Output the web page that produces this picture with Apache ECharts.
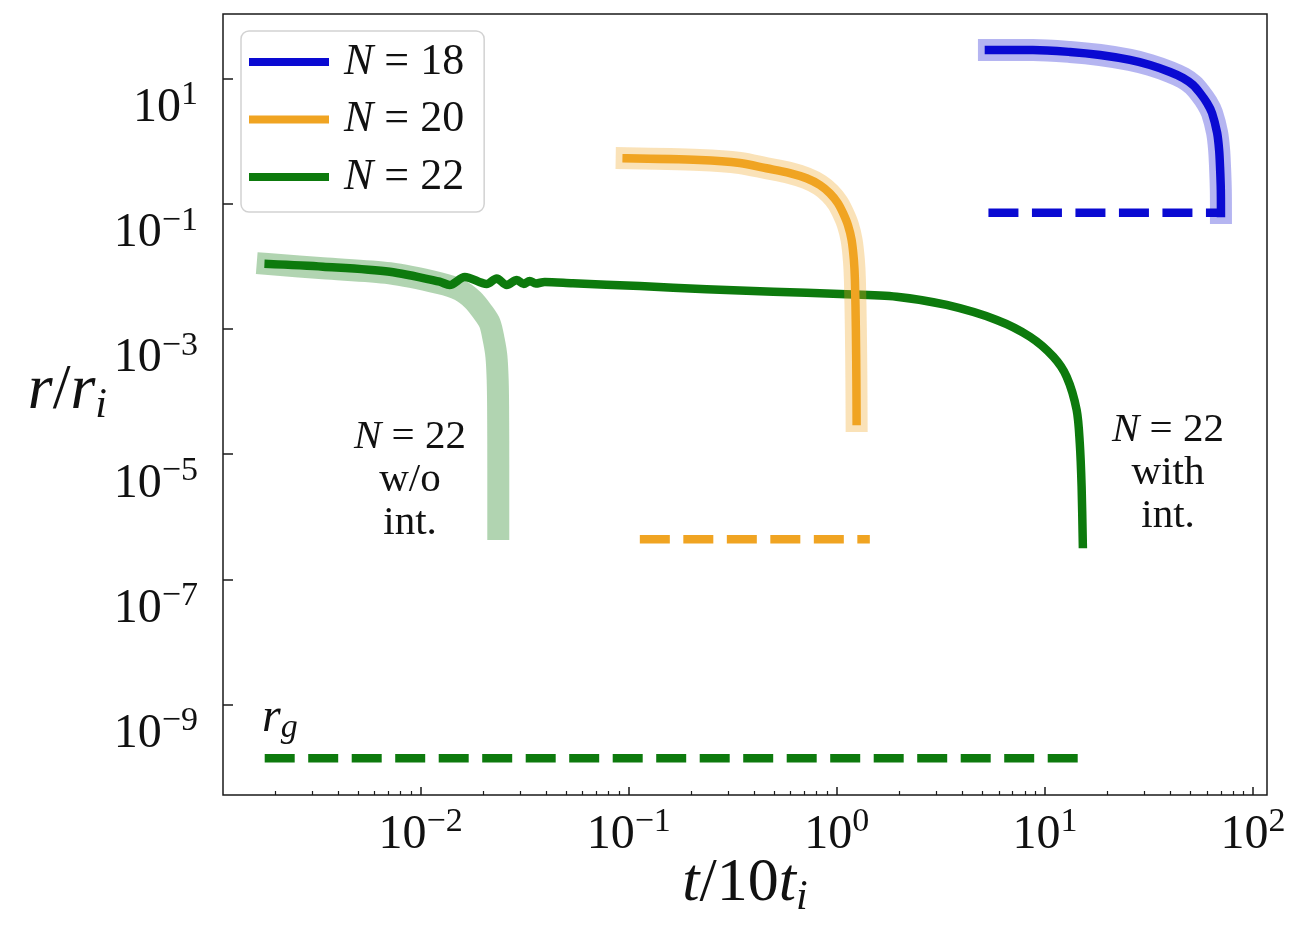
<!DOCTYPE html>
<html>
<head>
<meta charset="utf-8">
<title>r/r_i against t/10t_i</title>
<script src="https://cdn.jsdelivr.net/npm/echarts@6/dist/echarts.min.js"></script>
<style>
  html, body { margin: 0; padding: 0; background: #fff; overflow: hidden; }
  #chart { width: 1306px; height: 933px; }
</style>
</head>
<body>
<div id="chart"></div>
<script>
const SERIF = '"Liberation Serif", "Times New Roman", serif';

// N = 18
const t18 = [5.38, 8.75, 13.2, 18.4, 25.6, 32.0, 39.9, 46.1, 51.5, 55.6, 60.1, 63.5, 67.2, 68.7, 69.4, 70.0, 70.1];
const r18 = [28.5, 28.5, 26.5, 23.7, 19.8, 16.4, 12.7, 10.2, 7.87, 5.86, 4.06, 2.81, 1.35, 0.72, 0.385, 0.166, 0.071];
const t18Final = [5.35, 70.5];
const r18Final = [0.0714, 0.0714];

// N = 20
const t20 = [0.0977, 0.219, 0.342, 0.459, 0.594, 0.715, 0.828, 0.925, 1.01, 1.072, 1.13, 1.177, 1.207, 1.221, 1.234, 1.241, 1.244];
const r20 = [0.531, 0.499, 0.447, 0.368, 0.309, 0.255, 0.199, 0.147, 0.1026, 0.0703, 0.0457, 0.0263, 0.0126, 0.00604, 9.6e-4, 1.53e-4, 3.38e-5];
const t20Final = [0.113, 1.44];
const r20Final = [4.36e-7, 4.36e-7];

// N = 22 without interaction (light band)
const t22Free = [1.84e-3, 3.39e-3, 7.10e-3, 0.01234, 0.01538, 0.01783, 0.01986, 0.02148, 0.02245, 0.02312, 0.02344, 0.02355, 0.0236, 0.0236];
const r22Free = [0.01089, 9.29e-3, 7.73e-3, 5.35e-3, 4.18e-3, 2.90e-3, 1.86e-3, 1.23e-3, 6.65e-4, 3.6e-4, 1.53e-4, 5.72e-5, 5.57e-6, 6.35e-7];

// N = 22 with interaction
const t22Int = [1.86e-3, 3.39e-3, 7.10e-3, 0.01234, 0.01377, 0.01629, 0.02076, 0.02318, 0.0259, 0.02897, 0.03128, 0.03342, 0.03572, 0.03945, 0.05383, 0.113, 0.2364, 0.494, 1.034, 1.936, 3.37, 5.86, 8.47, 10.96, 12.71, 14.2, 14.7, 15.0, 15.2];
const r22Int = [0.01089, 9.87e-3, 8.20e-3, 5.67e-3, 5.02e-3, 6.75e-3, 5.21e-3, 6.38e-3, 5.02e-3, 6.04e-3, 5.21e-3, 5.82e-3, 5.31e-3, 5.61e-3, 5.35e-3, 4.84e-3, 4.30e-3, 3.93e-3, 3.61e-3, 3.27e-3, 2.41e-3, 1.39e-3, 7.50e-4, 3.60e-4, 1.72e-4, 5.06e-5, 1.49e-5, 3.01e-6, 3.66e-7];

// r_g level
const tGround = [1.78e-3, 14.6];
const rGround = [1.38e-10, 1.38e-10];

const xTickExps = [-2, -1, 0, 1, 2];
const yTickExps = [1, -1, -3, -5, -7, -9];
const legendNames = ['N = 18', 'N = 20', 'N = 22'];

const X_MIN = -2.95, X_MAX = 2.067;
const Y_MIN = -10.446, Y_MAX = 2.03;

const BLUE = '#0a0ad2';
const ORANGE = '#f0a422';
const GREEN = '#0d7a0d';

const toLog = (ts, rs) => ts.map((t, i) => [Math.log10(t), Math.log10(rs[i])]);

// minor ticks at 2..9 x 10^n
const xMinorTicks = [];
for (let n = -3; n <= 1; n++) {
    for (let k = 2; k <= 9; k++) {
        const v = n + Math.log10(k);
        if (v > X_MIN && v < X_MAX) xMinorTicks.push(v);
    }
}

function powLabel(v) {
    const e = Math.round(v);
    return '{b|10}{e|' + (e < 0 ? '\u2212' + (-e) : e) + '}';
}

const tickRich = {
    b: { fontFamily: SERIF, fontSize: 48, lineHeight: 54, verticalAlign: 'bottom', color: '#111' },
    e: { fontFamily: SERIF, fontSize: 34, lineHeight: 38, verticalAlign: 'top', color: '#111' }
};

function band(name, data, color) {
    return {
        name, type: 'line', data, symbol: 'none', showSymbol: false, silent: true, smooth: 0.3,
        color, lineStyle: { width: 22, color, cap: 'square', join: 'round' }
    };
}
function solid(name, data, color) {
    return {
        name, type: 'line', data, symbol: 'none', showSymbol: false, silent: true, smooth: 0.3,
        color, lineStyle: { width: 8.5, color, cap: 'square', join: 'round' }
    };
}
function dashed(name, data, color) {
    return {
        name, type: 'line', data, symbol: 'none', showSymbol: false, silent: true,
        color, lineStyle: { width: 8.5, color, type: [30, 13.5], cap: 'butt' }
    };
}

function textLines(x, yCenter, lines, size, gap) {
    const start = yCenter - (lines.length - 1) * gap / 2;
    return lines.map((s, i) => ({
        type: 'text', x, y: start + i * gap, silent: true,
        style: {
            text: s, align: 'center', verticalAlign: 'middle',
            fontFamily: SERIF, fontSize: size, fill: '#111',
            rich: { i: { fontFamily: SERIF, fontSize: size, fontStyle: 'italic', fill: '#111' } }
        }
    }));
}

const chart = echarts.init(document.getElementById('chart'));
chart.setOption({
    animation: false,
    backgroundColor: '#fff',
    grid: {
        left: 223, right: 39, top: 14, bottom: 138,
        show: true, borderColor: '#1a1a1a', borderWidth: 1.5,
        containLabel: false, outerBoundsMode: 'none'
    },
    legend: {
        data: legendNames, orient: 'vertical', left: 241, top: 31,
        icon: 'rect', itemWidth: 80, itemHeight: 8, itemGap: 13.5,
        padding: [9, 20, 13, 8],
        borderColor: '#d2d2d2', borderWidth: 1.5, borderRadius: 8,
        backgroundColor: 'rgba(255,255,255,0.85)',
        selectedMode: false,
        formatter: n => n.replace('N', '{i|N}'),
        textStyle: {
            fontFamily: SERIF, fontSize: 44, color: '#111', lineHeight: 40,
            padding: [0, 0, 0, 10],
            rich: { i: { fontFamily: SERIF, fontSize: 44, fontStyle: 'italic', lineHeight: 40, color: '#111' } }
        }
    },
    xAxis: [{
        type: 'value', min: X_MIN, max: X_MAX,
        axisLine: { show: false, onZero: false },
        splitLine: { show: false },
        axisTick: { inside: true, length: 8, customValues: xTickExps, lineStyle: { color: '#1a1a1a', width: 1.5 } },
        axisLabel: { customValues: xTickExps, margin: 10, formatter: powLabel, rich: tickRich },
        name: '{i|t}/10{i|t}{s|i}', nameLocation: 'middle', nameGap: 54, nameMoveOverlap: false,
        nameTextStyle: {
            fontFamily: SERIF, fontSize: 62, lineHeight: 70, color: '#111',
            rich: {
                i: { fontFamily: SERIF, fontSize: 62, fontStyle: 'italic', lineHeight: 70, color: '#111' },
                s: { fontFamily: SERIF, fontSize: 42, fontStyle: 'italic', lineHeight: 30, verticalAlign: 'bottom', color: '#111' }
            }
        }
    }, {
        type: 'value', min: X_MIN, max: X_MAX, position: 'bottom',
        axisLine: { show: false, onZero: false },
        splitLine: { show: false },
        axisLabel: { show: false },
        axisTick: { inside: true, length: 4, customValues: xMinorTicks, lineStyle: { color: '#1a1a1a', width: 1.2 } }
    }],
    yAxis: {
        type: 'value', min: Y_MIN, max: Y_MAX,
        axisLine: { show: false, onZero: false },
        splitLine: { show: false },
        axisTick: { inside: true, length: 10, customValues: yTickExps, lineStyle: { color: '#1a1a1a', width: 1.5 } },
        axisLabel: { customValues: yTickExps, margin: 25, verticalAlign: 'top', formatter: powLabel, rich: tickRich },
        name: '{i|r}/{i|r}{s|i}', nameLocation: 'middle', nameRotate: 0, nameGap: 116, nameMoveOverlap: false,
        nameTextStyle: {
            fontFamily: SERIF, fontSize: 64, lineHeight: 70, color: '#111',
            align: 'right', verticalAlign: 'middle', padding: [0, 0, 26, 0],
            rich: {
                i: { fontFamily: SERIF, fontSize: 64, fontStyle: 'italic', lineHeight: 70, color: '#111' },
                s: { fontFamily: SERIF, fontSize: 42, fontStyle: 'italic', lineHeight: 30, verticalAlign: 'bottom', color: '#111' }
            }
        }
    },
    series: [
        band('N = 22 w/o int.', toLog(t22Free, r22Free), 'rgba(13,122,13,0.32)'),
        solid('N = 22', toLog(t22Int, r22Int), GREEN),
        dashed('r_g', toLog(tGround, rGround), GREEN),
        band('N = 20 band', toLog(t20, r20), 'rgba(240,164,34,0.32)'),
        solid('N = 20', toLog(t20, r20), ORANGE),
        dashed('N = 20 final', toLog(t20Final, r20Final), ORANGE),
        band('N = 18 band', toLog(t18, r18), 'rgba(10,10,210,0.3)'),
        solid('N = 18', toLog(t18, r18), BLUE),
        dashed('N = 18 final', toLog(t18Final, r18Final), BLUE)
    ],
    graphic: [
        ...textLines(410, 480, ['{i|N} = 22', 'w/o', 'int.'], 41, 43),
        ...textLines(1168, 473, ['{i|N} = 22', 'with', 'int.'], 41, 43),
        {
            type: 'text', x: 262, y: 718, silent: true,
            style: {
                text: '{i|r}{s|g}', align: 'left', verticalAlign: 'middle',
                fontFamily: SERIF, fontSize: 48, fill: '#111',
                rich: {
                    i: { fontFamily: SERIF, fontSize: 48, fontStyle: 'italic', lineHeight: 54, fill: '#111' },
                    s: { fontFamily: SERIF, fontSize: 34, fontStyle: 'italic', lineHeight: 24, verticalAlign: 'bottom', fill: '#111' }
                }
            }
        }
    ]
});
</script>
</body>
</html>
